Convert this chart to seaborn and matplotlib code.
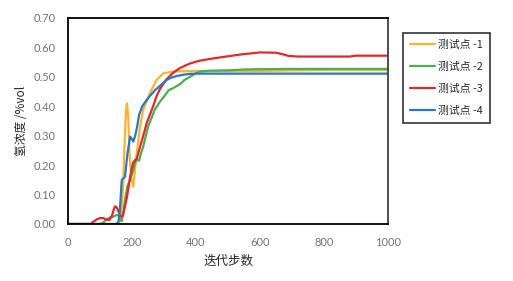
import numpy as np
import pandas as pd
import matplotlib
matplotlib.use("Agg")
import matplotlib.pyplot as plt
import seaborn as sns
from matplotlib.lines import Line2D

# ---- data ----
labels = ["测试点 -1", "测试点 -2", "测试点 -3", "测试点 -4"]

x1 = [0, 100, 150, 160, 166, 172, 177, 181, 184, 188, 192, 197, 204, 209, 215, 225, 235, 256, 277, 298, 328, 400, 500, 600, 700, 800, 900, 1000]
y1 = [0, 0, 0, 0.003, 0.03, 0.12, 0.28, 0.38, 0.41, 0.37, 0.25, 0.16, 0.127, 0.18, 0.24, 0.33, 0.388, 0.445, 0.49, 0.512, 0.518, 0.52, 0.52, 0.52, 0.522, 0.523, 0.523, 0.523]

x2 = [0, 100, 110, 120, 131, 142, 150, 157, 163, 168, 172, 178, 186, 194, 203, 210, 215, 222, 228, 235, 250, 271, 290, 298, 315, 329, 350, 365, 381, 400, 412, 444, 500, 550, 600, 700, 800, 900, 1000]
y2 = [0, 0, 0.005, 0.015, 0.022, 0.025, 0.03, 0.03, 0.015, 0.01, 0.03, 0.08, 0.13, 0.15, 0.18, 0.21, 0.218, 0.215, 0.24, 0.263, 0.33, 0.388, 0.42, 0.43, 0.455, 0.462, 0.475, 0.49, 0.50, 0.512, 0.518, 0.521, 0.522, 0.525, 0.526, 0.527, 0.527, 0.527, 0.527]

x3 = [0, 70, 80, 90, 100, 110, 120, 130, 138, 143, 147, 152, 157, 162, 166, 172, 178, 184, 190, 194, 203, 210, 215, 222, 230, 246, 266, 277, 288, 308, 330, 350, 380, 412, 450, 500, 540, 600, 650, 670, 690, 720, 880, 900, 1000]
y3 = [0, 0, 0.008, 0.016, 0.02, 0.02, 0.015, 0.014, 0.03, 0.05, 0.06, 0.057, 0.045, 0.03, 0.025, 0.03, 0.06, 0.09, 0.13, 0.16, 0.207, 0.218, 0.222, 0.25, 0.28, 0.343, 0.40, 0.435, 0.46, 0.492, 0.515, 0.53, 0.545, 0.555, 0.562, 0.57, 0.576, 0.583, 0.582, 0.577, 0.571, 0.569, 0.569, 0.572, 0.572]

x4 = [0, 100, 150, 157, 161, 164, 168, 178, 186, 194, 199, 204, 210, 216, 222, 232, 245, 256, 272, 288, 305, 319, 340, 359, 380, 403, 500, 600, 700, 800, 900, 1000]
y4 = [0, 0, 0, 0.005, 0.03, 0.08, 0.15, 0.16, 0.24, 0.297, 0.29, 0.28, 0.30, 0.33, 0.37, 0.40, 0.42, 0.435, 0.455, 0.47, 0.487, 0.496, 0.503, 0.507, 0.51, 0.511, 0.511, 0.511, 0.511, 0.511, 0.511, 0.511]

colors = ["#FDB32E", "#4BAE4F", "#E4282A", "#2A77C5"]

xs = [x1, x2, x3, x4]
ys = [y1, y2, y3, y4]
df = pd.concat([pd.DataFrame({"x": x, "y": y, "s": lab}) for x, y, lab in zip(xs, ys, labels)],
               ignore_index=True)

sns.set_theme(style="white")
plt.rcParams["font.family"] = ["Noto Sans CJK SC", "DejaVu Sans"]

fig = plt.figure(figsize=(5.13, 2.81), dpi=100)
ax = fig.add_axes([68/513, 1-224/281, 320/513, 206/281])

sns.lineplot(data=df, x="x", y="y", hue="s", palette=dict(zip(labels, colors)),
             estimator=None, sort=False, linewidth=1.6, ax=ax, legend=False)

ax.set_xlim(0, 1000)
ax.set_ylim(0, 0.7)
ax.set_xticks([0, 200, 400, 600, 800, 1000])
ax.set_yticks(np.arange(0, 0.71, 0.1))
ax.set_yticklabels([f"{v:.2f}" for v in np.arange(0, 0.71, 0.1)])
for lab in ax.get_xticklabels() + ax.get_yticklabels():
    lab.set_fontfamily(["Lato", "DejaVu Sans"])
    lab.set_fontsize(8)
    lab.set_color("#737373")
ax.tick_params(direction="in", length=3, width=1, color="black")
ax.tick_params(axis="y", pad=9)
ax.tick_params(axis="x", pad=9)
for sp in ax.spines.values():
    sp.set_visible(True)
    sp.set_color("black")
    sp.set_linewidth(1.3)
ax.spines["right"].set_color("#404040")

ax.set_xlabel("迭代步数", fontsize=9, labelpad=5)
ax.set_ylabel("氢浓度 /%vol", fontsize=8.5, labelpad=4)

handles = [Line2D([], [], color=c, lw=1.6) for c in colors]
leg = ax.legend(handles, labels, loc="upper left",
                bbox_to_anchor=(403/513, 1-33/281), bbox_transform=fig.transFigure,
                frameon=True, fancybox=False, fontsize=7.8, labelspacing=1.1,
                handlelength=2.3, handletextpad=0.3, borderpad=0.65, borderaxespad=0)
leg.get_frame().set_edgecolor("black")
leg.get_frame().set_linewidth(1.2)

fig.savefig("out.png", dpi=100)
